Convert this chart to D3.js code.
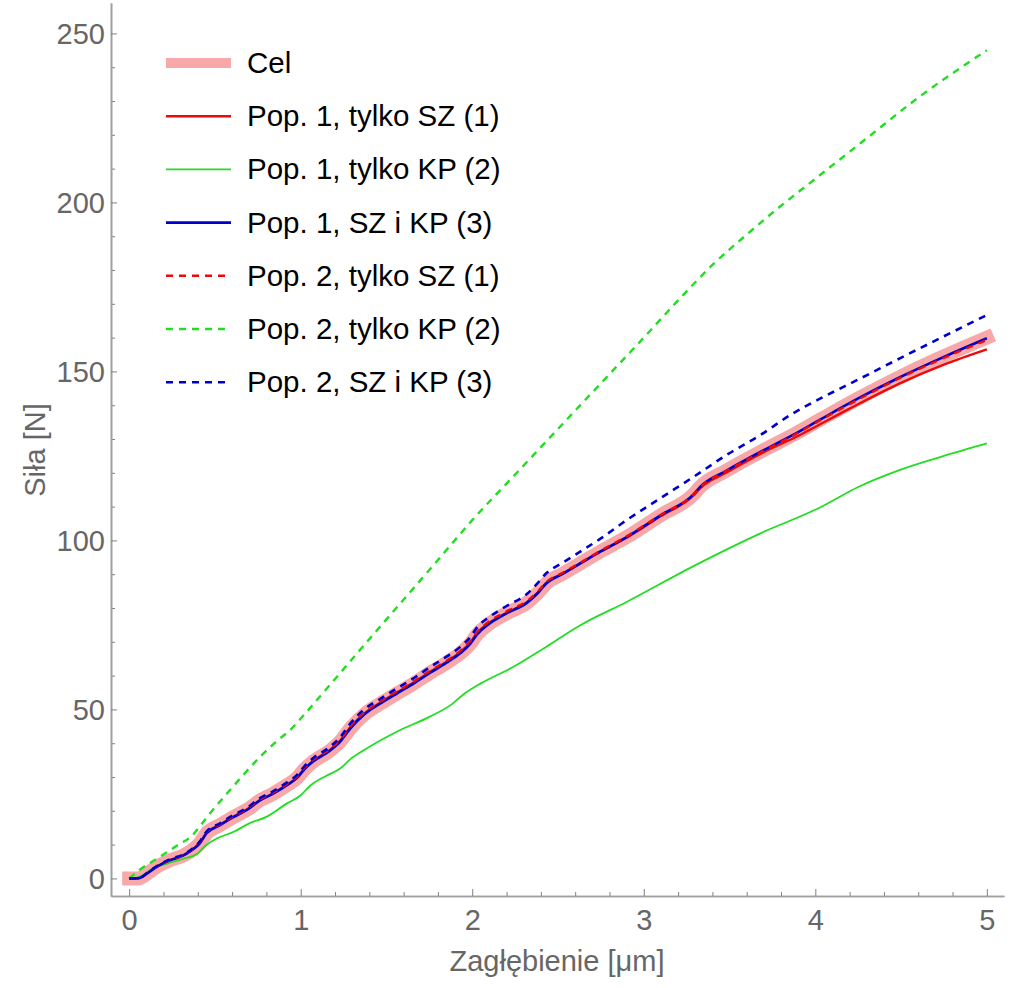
<!DOCTYPE html>
<html>
<head>
<meta charset="utf-8">
<script src="https://cdn.jsdelivr.net/npm/d3@7"></script>
<style>
  html, body { margin: 0; padding: 0; background: #fff; }
  svg { display: block; }
  text { font-family: "Liberation Sans", Arial, sans-serif; }
</style>
</head>
<body>
<svg id="chart" width="1024" height="988"></svg>
<script>
// ---------- data ----------
const xTicks = [0, 1, 2, 3, 4, 5];
const yTicks = [0, 50, 100, 150, 200, 250];
const xLabel = "Zagłębienie [μm]";
const yLabel = "Siła [N]";
const legendLabels = [
  "Cel",
  "Pop. 1, tylko SZ (1)",
  "Pop. 1, tylko KP (2)",
  "Pop. 1, SZ i KP (3)",
  "Pop. 2, tylko SZ (1)",
  "Pop. 2, tylko KP (2)",
  "Pop. 2, SZ i KP (3)"
];

const celData = [[0,0],[0.05,0],[0.12,2],[0.16,3.4],[0.24,5.4],[0.32,6.9],[0.38,8.9],[0.41,10.3],[0.45,13.3],[0.53,15.8],[0.61,18.2],[0.69,20.4],[0.76,23],[0.84,25.1],[0.92,27.6],[0.98,29.8],[1.02,32.2],[1.07,34.5],[1.17,37.8],[1.23,40.5],[1.29,44.4],[1.37,48.5],[1.46,51.6],[1.56,54.7],[1.66,57.7],[1.75,60.7],[1.85,63.8],[1.93,66.6],[1.99,69.5],[2.03,72.3],[2.09,75],[2.2,78.4],[2.32,81.6],[2.38,84.3],[2.43,87.2],[2.53,90.2],[2.63,93.2],[2.75,96.8],[2.9,101],[3.1,107.5],[3.29,113.6],[3.33,115.9],[3.48,120.6],[3.68,126.2],[3.87,131.2],[4.03,135.8],[4.25,142],[4.49,148.3],[4.75,154.5],[5.0,160]];

const pop1SZ = [[0,0],[0.05,0],[0.12,2.2],[0.16,3.5],[0.24,5.5],[0.32,7],[0.38,9],[0.41,10.5],[0.45,13.4],[0.53,15.9],[0.61,18.3],[0.69,20.5],[0.76,23.1],[0.84,25.2],[0.92,27.7],[0.98,29.9],[1.02,32.4],[1.07,34.7],[1.17,38],[1.23,40.8],[1.29,44.8],[1.37,48.8],[1.46,51.9],[1.56,55],[1.66,58],[1.75,61],[1.85,64.1],[1.93,67],[1.99,69.9],[2.03,72.8],[2.09,75.3],[2.2,78.6],[2.32,81.8],[2.38,84.5],[2.43,87.4],[2.53,90.3],[2.63,93.2],[2.75,96.7],[2.9,100.8],[3.1,107.2],[3.29,113.3],[3.33,115.5],[3.48,120],[3.68,125.6],[3.91,131.2],[4.2,139],[4.49,146.4],[4.75,152],[5.0,156.5]];

const pop1KP = [[0,0],[0.06,0.5],[0.14,3],[0.22,4.4],[0.32,5.9],[0.4,7.4],[0.45,9.9],[0.51,11.8],[0.61,13.8],[0.7,16.3],[0.8,18.2],[0.92,22.2],[1.0,24.6],[1.05,27.2],[1.15,30.4],[1.23,32.5],[1.29,35.3],[1.37,38],[1.56,43.4],[1.75,47.8],[1.88,51.5],[1.95,54.5],[2.05,57.7],[2.24,62.6],[2.43,68.5],[2.63,74.9],[2.9,81.8],[3.29,92.4],[3.68,102.1],[4.03,109.8],[4.25,115.8],[4.49,120.8],[4.75,125],[5.0,128.7]];

const pop1SZKP = [[0,0],[0.05,0],[0.12,2],[0.16,3.4],[0.24,5.4],[0.32,6.9],[0.38,8.9],[0.41,10.3],[0.45,13.3],[0.53,15.8],[0.61,18.2],[0.69,20.4],[0.76,23],[0.84,25.1],[0.92,27.6],[0.98,29.8],[1.02,32.2],[1.07,34.5],[1.17,37.8],[1.23,40.5],[1.29,44.4],[1.37,48.5],[1.46,51.6],[1.56,54.7],[1.66,57.7],[1.75,60.7],[1.85,63.8],[1.93,66.6],[1.99,69.5],[2.03,72.3],[2.09,75],[2.2,78.4],[2.32,81.6],[2.38,84.3],[2.43,87.2],[2.53,90.2],[2.63,93.2],[2.75,96.8],[2.9,101],[3.1,107.5],[3.29,113.6],[3.33,115.9],[3.48,120.6],[3.68,126.2],[3.87,131.2],[4.03,135.8],[4.25,142],[4.49,148.2],[4.75,154.3],[5.0,159.8]];

const pop2SZ = [[0,0],[0.05,0],[0.12,2.1],[0.16,3.5],[0.24,5.5],[0.32,7],[0.38,9.1],[0.41,10.6],[0.45,13.6],[0.53,16],[0.61,18.4],[0.69,20.7],[0.76,23.3],[0.84,25.4],[0.92,27.9],[0.98,30.2],[1.02,32.6],[1.07,35],[1.17,38.3],[1.23,41],[1.29,45],[1.37,49],[1.46,52.2],[1.56,55.3],[1.66,58.3],[1.75,61.3],[1.85,64.4],[1.93,67.3],[1.99,70.3],[2.03,73],[2.09,75.7],[2.2,79],[2.32,82.1],[2.38,84.8],[2.43,87.6],[2.53,90.5],[2.63,93.4],[2.75,97],[2.9,101.2],[3.1,107.6],[3.29,113.6],[3.33,115.8],[3.48,120.5],[3.68,126],[3.87,131],[4.03,135.6],[4.25,141.7],[4.49,148],[4.75,154],[5.0,159.3]];

const pop2KP = [[0,0],[0.06,2.5],[0.18,6.4],[0.3,10.4],[0.36,12.3],[0.41,15.3],[0.47,19.2],[0.57,25.1],[0.665,30.6],[0.76,35.8],[0.86,40.6],[0.95,44.5],[1.0,47.3],[1.2,59],[1.4,70.8],[1.6,82.5],[1.8,94.2],[2.0,106],[2.25,119.5],[2.5,133],[2.75,146.5],[3.0,160],[3.2,171],[3.4,181.5],[3.6,190.5],[3.8,199],[4.0,207],[4.3,219],[4.6,231],[5.0,245]];

const pop2SZKP = [[0,0],[0.05,0],[0.12,2.2],[0.16,3.6],[0.24,5.7],[0.32,7.2],[0.38,9.3],[0.41,10.8],[0.45,13.8],[0.53,16.3],[0.61,18.8],[0.69,21],[0.76,23.7],[0.84,25.8],[0.92,28.4],[0.98,30.7],[1.02,33.1],[1.07,35.5],[1.17,38.9],[1.23,41.8],[1.29,45.9],[1.37,50],[1.46,53],[1.56,56.2],[1.66,59.3],[1.75,62.4],[1.85,65.6],[1.93,68.5],[1.99,71.5],[2.03,74.4],[2.09,77],[2.2,80.6],[2.32,84.2],[2.38,87.3],[2.43,90.2],[2.53,93.5],[2.63,96.7],[2.75,100.6],[2.9,106],[3.1,112.6],[3.29,118.8],[3.48,125.2],[3.68,131.2],[3.87,137.6],[4.03,142],[4.25,147.6],[4.49,153.8],[4.75,160.4],[5.0,166.7]];

// ---------- styles ----------
const series = [
  { data: celData,  color: "#f8a8a8", width: 14,  legendWidth: 10, dash: null,  cap: "square" },
  { data: pop1SZ,   color: "#ee0a0a", width: 2.4, legendWidth: 2.4, dash: null,  cap: "butt" },
  { data: pop1KP,   color: "#22dd22", width: 1.8, legendWidth: 1.8, dash: null,  cap: "butt" },
  { data: pop1SZKP, color: "#0000cc", width: 2.6, legendWidth: 2.6, dash: null,  cap: "butt" },
  { data: pop2SZ,   color: "#ee0a0a", width: 2.4, legendWidth: 2.4, dash: "7,6", cap: "butt" },
  { data: pop2KP,   color: "#22dd22", width: 2.4, legendWidth: 2.4, dash: "7,6", cap: "butt" },
  { data: pop2SZKP, color: "#0000cc", width: 2.6, legendWidth: 2.6, dash: "7,6", cap: "butt" }
];

const svg = d3.select("#chart");
const x = d3.scaleLinear().domain([-0.106, 5.1]).range([111, 1004]);
const y = d3.scaleLinear().domain([-5.2, 259]).range([896, 3]);

const axisColor = "#a0a0a0";
const tickColor = "#808080";
const labelColor = "#666666";
const fontSize = 29;

// minor ticks
const xMinor = d3.range(0, 5.01, 0.2).filter(v => Math.abs(v - Math.round(v)) > 1e-6);
const yMinor = d3.range(0, 255, 10).filter(v => v % 50 !== 0);

const gxMinor = svg.append("g").attr("transform", "translate(0,896)")
  .call(d3.axisBottom(x).tickValues(xMinor).tickSize(-4).tickSizeOuter(0).tickFormat(""));
const gyMinor = svg.append("g").attr("transform", "translate(111,0)")
  .call(d3.axisLeft(y).tickValues(yMinor).tickSize(-4).tickSizeOuter(0).tickFormat(""));

const gx = svg.append("g").attr("transform", "translate(0,896)")
  .call(d3.axisBottom(x).tickValues(xTicks).tickSize(-7).tickSizeOuter(0).tickPadding(13).tickFormat(d3.format("d")));
const gy = svg.append("g").attr("transform", "translate(111,0)")
  .call(d3.axisLeft(y).tickValues(yTicks).tickSize(-6).tickSizeOuter(0).tickPadding(6).tickFormat(d3.format("d")));

[gxMinor, gyMinor, gx, gy].forEach(g => {
  g.select(".domain").attr("stroke", axisColor).attr("stroke-width", 1.6);
  g.selectAll(".tick line").attr("stroke", tickColor).attr("stroke-width", 1);
  g.selectAll(".tick text").attr("fill", labelColor).attr("font-size", fontSize)
    .attr("font-family", "'Liberation Sans', Arial, sans-serif");
});
gy.selectAll(".tick text").attr("dy", "0.35em");

// axis labels
svg.append("text").attr("x", 557).attr("y", 971).attr("text-anchor", "middle")
  .attr("fill", labelColor).attr("font-size", fontSize).text(xLabel);
svg.append("text").attr("transform", "translate(45,450) rotate(-90)").attr("text-anchor", "middle")
  .attr("fill", labelColor).attr("font-size", fontSize).text(yLabel);

// lines
const line = d3.line().curve(d3.curveMonotoneX).x(d => x(d[0])).y(d => y(d[1]));
const plot = svg.append("g");
series.forEach(s => {
  plot.append("path").datum(s.data)
    .attr("d", line)
    .attr("fill", "none")
    .attr("stroke", s.color)
    .attr("stroke-width", s.width)
    .attr("stroke-linejoin", "round")
    .attr("stroke-linecap", s.cap)
    .attr("stroke-dasharray", s.dash);
});

// legend
const legend = svg.append("g");
const legendTop = 63, legendStep = 53.2;
series.forEach((s, i) => {
  const cy = legendTop + i * legendStep;
  legend.append("line")
    .attr("x1", 166).attr("x2", s.dash ? 228 : 231)
    .attr("y1", cy).attr("y2", cy)
    .attr("stroke", s.color)
    .attr("stroke-width", s.legendWidth)
    .attr("stroke-dasharray", s.dash);
  legend.append("text")
    .attr("x", 247).attr("y", cy + 10)
    .attr("fill", "#000").attr("font-size", 29.5)
    .text(legendLabels[i]);
});
</script>
</body>
</html>
